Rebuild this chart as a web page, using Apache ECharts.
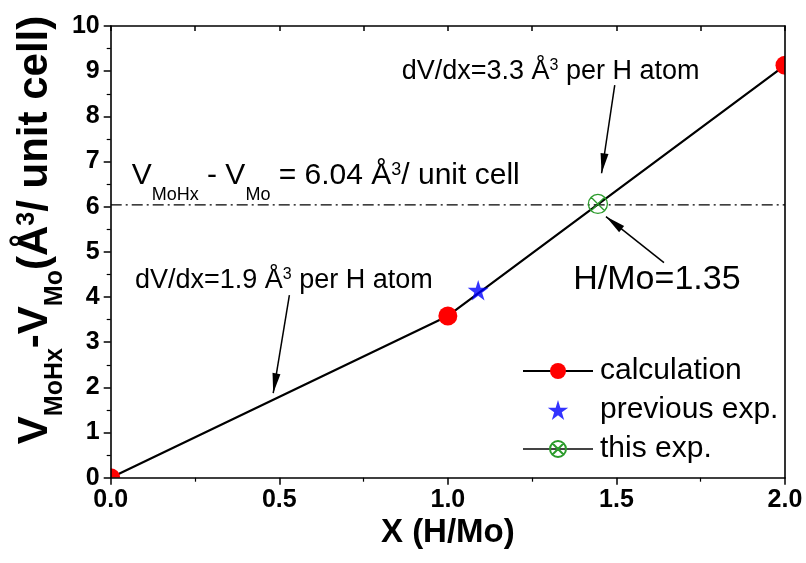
<!DOCTYPE html>
<html><head><meta charset="utf-8">
<script src="https://cdn.jsdelivr.net/npm/echarts@6/dist/echarts.min.js"></script>
<style>html,body{margin:0;padding:0;background:#fff}#c{width:806px;height:563px}</style>
</head><body><div id="c"></div>
<script>
// ---- data ----
const calcX = [0, 1.0, 2.0];
const calcY = [0, 3.58, 9.13];
const prevX = [1.09];
const prevY = [4.15];
const thisX = [1.445];
const thisY = [6.06];
const refLevel = 6.04;           // horizontal dash-dot level
const xRange = [0, 2];
const yRange = [0, 10];
// arrows: [fromX, fromY] -> [toX, toY] in data units
const arrowFrom = [[0.530, 4.04], [1.495, 8.69], [1.641, 4.76]];
const arrowTo   = [[0.482, 1.87], [1.456, 6.74], [1.469, 5.78]];
const legendNames = ['calculation', 'previous exp.', 'this exp.'];

const FONT = 'Liberation Sans, Arial, sans-serif';
const chart = echarts.init(document.getElementById('c'), null, {renderer: 'canvas'});

const G = {left: 110.7, right: 21, top: 26, bottom: 85.3};
const W = 806, H = 563;

// rich styles: m = main, s = subscript (dropped by d), u = superscript
function richLine(F, f, d, bold) {
  const fw = bold ? 'bold' : 'normal';
  const S = 0.85 * F + d + 0.15 * f;
  return {
    m: {fontSize: F, fontFamily: FONT, fontWeight: fw, color: '#000', lineHeight: F, verticalAlign: 'top'},
    s: {fontSize: f, fontFamily: FONT, fontWeight: fw, color: '#000', lineHeight: S, verticalAlign: 'bottom'},
    u: {fontSize: f, fontFamily: FONT, fontWeight: fw, color: '#000', lineHeight: f, verticalAlign: 'top'}
  };
}
function annot(x, baseline, F, f, d, text, bold) {
  return {type: 'text', x: x, y: baseline - 0.85 * F, z: 6,
    style: {text: text, rich: richLine(F, f, d, bold), align: 'left', verticalAlign: 'top'}};
}

const markerStar = 'path://M50,2 L61,38 L98,38 L68,60 L79,96 L50,74 L21,96 L32,60 L2,38 L39,38 Z';
const markerXCircle = 'path://M10,0 A10,10 0 1 1 9.99,0 Z M2.9,2.9 L17.1,17.1 M17.1,2.9 L2.9,17.1';
const arrowHead = 'path://M0,-20 M0,0 L4,20 L-4,20 Z';

const arrowData = arrowFrom.map((p, i) => [{coord: p}, {coord: arrowTo[i]}]);

const option = {
  animation: false,
  backgroundColor: '#fff',
  grid: {left: G.left, right: G.right, top: G.top, bottom: G.bottom, containLabel: false},
  xAxis: [{
    type: 'value', min: xRange[0], max: xRange[1], interval: 0.5, position: 'bottom', z: 10,
    axisLine: {show: true, onZero: false, lineStyle: {color: '#000', width: 1.6}},
    axisTick: {show: true, inside: false, length: 7, lineStyle: {color: '#000', width: 1.5}},
    minorTick: {show: true, splitNumber: 2, length: 4, lineStyle: {color: '#000', width: 1.2}},
    splitLine: {show: false},
    axisLabel: {margin: 10, fontSize: 25, fontWeight: 'bold', fontFamily: FONT, color: '#000',
      formatter: v => v.toFixed(1)},
    name: 'X (H/Mo)', nameLocation: 'middle', nameGap: 39, nameMoveOverlap: false,
    nameTextStyle: {fontSize: 33, fontWeight: 'bold', fontFamily: FONT, color: '#000'}
  }, {
    type: 'value', min: xRange[0], max: xRange[1], interval: 0.25, position: 'top', z: 10,
    axisLine: {show: true, onZero: false, lineStyle: {color: '#000', width: 1.6}},
    axisTick: {show: true, inside: true, length: 5, lineStyle: {color: '#000', width: 1.5}},
    axisLabel: {show: false}, splitLine: {show: false}
  }],
  yAxis: [{
    type: 'value', min: yRange[0], max: yRange[1], interval: 1, position: 'left', z: 10,
    axisLine: {show: true, onZero: false, lineStyle: {color: '#000', width: 1.6}},
    axisTick: {show: true, inside: false, length: 7, lineStyle: {color: '#000', width: 1.5}},
    minorTick: {show: true, splitNumber: 2, length: 4, lineStyle: {color: '#000', width: 1.2}},
    splitLine: {show: false},
    axisLabel: {margin: 11, fontSize: 25, fontWeight: 'bold', fontFamily: FONT, color: '#000'}
  }, {
    type: 'value', min: yRange[0], max: yRange[1], interval: 1, position: 'right', z: 10,
    axisLine: {show: true, onZero: false, lineStyle: {color: '#000', width: 1.6}},
    axisTick: {show: false}, axisLabel: {show: false}, splitLine: {show: false}
  }],
  legend: {
    data: legendNames, orient: 'vertical', left: 517, top: 351, itemWidth: 70, itemHeight: 20, itemGap: 9,
    selectedMode: false, z: 6,
    textStyle: {fontSize: 30, fontFamily: FONT, color: '#000', lineHeight: 30, padding: [0, 0, 0, 2]}
  },
  series: [
    {
      name: 'ref', type: 'line', data: [[xRange[0], refLevel], [xRange[1], refLevel]],
      symbol: 'none', silent: true, z: 1,
      lineStyle: {color: '#000', width: 1.3, type: [11, 4, 2, 4]},
      markLine: {
        silent: true, symbol: ['none', arrowHead], symbolSize: [8, 40],
        lineStyle: {color: '#000', width: 1.5, type: 'solid'},
        label: {show: false}, data: arrowData, animation: false
      }
    },
    {
      name: 'calculation', type: 'line', data: calcX.map((x, i) => [x, calcY[i]]),
      symbol: 'circle', symbolSize: 19, showAllSymbol: true, z: 2,
      lineStyle: {color: '#000', width: 2.2},
      itemStyle: {color: '#ff0000', borderWidth: 0}
    },
    {
      name: 'previous exp.', type: 'scatter', data: prevX.map((x, i) => [x, prevY[i]]),
      symbol: markerStar, symbolSize: 21, symbolKeepAspect: true, z: 3,
      itemStyle: {color: '#0000ff'}
    },
    {
      name: 'this exp.', type: 'line', data: thisX.map((x, i) => [x, thisY[i]]),
      symbol: markerXCircle, symbolSize: 19, showSymbol: true, z: 3,
      lineStyle: {color: '#444', width: 1.2},
      itemStyle: {color: 'rgba(0,0,0,0)', borderColor: '#2b9b2b', borderWidth: 1.3}
    }
  ],
  graphic: [
    // white masks outside the plot frame (clip markers at the frame)
    {type: 'rect', shape: {x: 0, y: 0, width: G.left, height: H}, style: {fill: '#fff'}, z: 5, silent: true},
    {type: 'rect', shape: {x: 0, y: H - G.bottom, width: W, height: G.bottom}, style: {fill: '#fff'}, z: 5, silent: true},
    {type: 'rect', shape: {x: W - G.right, y: 0, width: G.right, height: H}, style: {fill: '#fff'}, z: 5, silent: true},
    {type: 'rect', shape: {x: 0, y: 0, width: W, height: G.top}, style: {fill: '#fff'}, z: 5, silent: true},
    annot(131.7, 186.7, 30, 18, 15, '{m|V}{s|MoHx}{m| - V}{s|Mo}{m| = 6.04 Å}{u|3}{m|/ unit cell}', false),
    annot(401.7, 80.7, 27, 16, 10, '{m|dV/dx=3.3 Å}{u|3}{m| per H atom}', false),
    annot(135, 290, 27, 16, 10, '{m|dV/dx=1.9 Å}{u|3}{m| per H atom}', false),
    annot(573.3, 291.7, 34, 20, 10, '{m|H/Mo=1.35}', false),
    {
      type: 'text', x: 41, y: 230, rotation: Math.PI / 2, z: 12,
      style: {
        text: '{m|V}{s|MoHx}{m|-V}{s|Mo}{m|(Å}{u|3}{m|/ unit cell)}',
        rich: richLine(42, 25, 13, true), align: 'center', verticalAlign: 'middle'
      }
    }
  ]
};
chart.setOption(option);
</script></body></html>
